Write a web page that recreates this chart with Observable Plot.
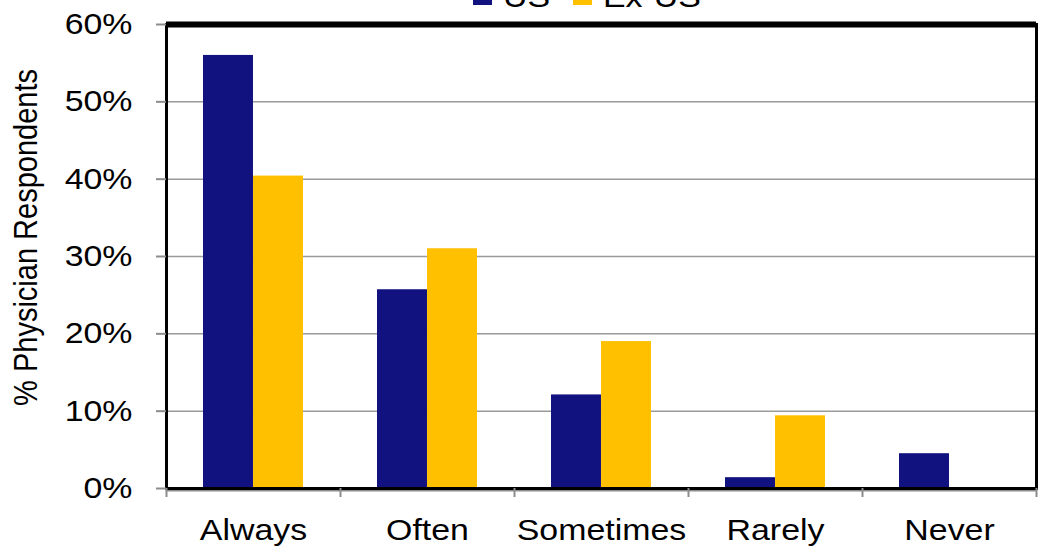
<!DOCTYPE html>
<html>
<head>
<meta charset="utf-8">
<script src="https://cdn.jsdelivr.net/npm/d3@7"></script>
<script src="https://cdn.jsdelivr.net/npm/@observablehq/plot@0.6"></script>
<style>
  html, body { margin: 0; padding: 0; background: #fff; overflow: hidden; }
  #legend svg, #chart svg { display: block; }
</style>
</head>
<body>
<div id="legend"></div>
<div id="chart"></div>
<script>
// Survey answers, share of physician respondents (%)
const categories = ["Always", "Often", "Sometimes", "Rarely", "Never"];
const series = ["US", "Ex-US"];
const usValues = [56.0, 25.7, 12.1, 1.4, 4.5];
const exUsValues = [40.4, 31.0, 19.0, 9.4, 0];
const yTicks = [0, 10, 20, 30, 40, 50, 60];
const seriesColors = ["#11117F", "#FFC000"];
const yLabel = "% Physician Respondents";

// Layout
const W = 1038, LEGEND_H = 7, H = 548 - LEGEND_H;
const margin = {top: 17, right: 2, bottom: 60, left: 166};
const FONT = "'Liberation Sans', Arial, Helvetica, sans-serif";
const STRETCH = 1.13;            // wide lettering
const bandPad = 0.425;
const step = (W - margin.left - margin.right) / categories.length;
const halfGroup = step * (1 - bandPad) / 2;
const axisGray = "#8c8c8c";

const rows = categories.flatMap((c, i) => [
  {category: c, series: series[0], value: usValues[i]},
  {category: c, series: series[1], value: exUsValues[i]}
]);

const plot = Plot.plot({
  width: W,
  height: H,
  marginTop: margin.top,
  marginRight: margin.right,
  marginBottom: margin.bottom,
  marginLeft: margin.left,
  style: {fontFamily: FONT, fontSize: "30px", color: "black", background: "white"},
  x: {domain: categories, paddingInner: bandPad, paddingOuter: bandPad / 2},
  y: {domain: [0, 60]},
  color: {domain: series, range: seriesColors},
  marks: [
    // horizontal gridlines
    Plot.ruleY(yTicks, {stroke: "#9a9a9a", strokeWidth: 1.5}),
    // grouped bars: US on the left half of each group, Ex-US on the right half
    Plot.barY(rows.filter(d => d.series === series[0]),
      {x: "category", y: "value", fill: "series", insetRight: halfGroup}),
    Plot.barY(rows.filter(d => d.series === series[1]),
      {x: "category", y: "value", fill: "series", insetLeft: halfGroup}),
    // gray category axis line just below the plot border
    Plot.ruleY([0], {stroke: axisGray, strokeWidth: 2, dy: 2}),
    // plot-area border, heavier along the top
    Plot.frame({stroke: "black", strokeWidth: 3}),
    Plot.ruleY([60], {stroke: "black", strokeWidth: 6}),
    // category separator ticks
    Plot.ruleX(categories, {x: d => d, dx: -step / 2, y1: 0, y2: 0, insetBottom: -9,
      stroke: axisGray, strokeWidth: 2}),
    Plot.ruleX(categories.slice(-1), {x: d => d, dx: step / 2, y1: 0, y2: 0, insetBottom: -9,
      stroke: axisGray, strokeWidth: 2}),
    Plot.axisY({ticks: yTicks, tickFormat: d => d + "%", tickSize: 10, tickPadding: 24,
      stroke: axisGray, strokeWidth: 2, fill: "black", fontSize: 30, label: null}),
    Plot.axisX({tickSize: 0, tickPadding: 30, fontSize: 30, fill: "black", label: null}),
    Plot.text([yLabel], {text: d => d, frameAnchor: "left", rotate: -90, lineAnchor: "top",
      textAnchor: "middle", dx: -153, dy: -19, fontSize: 29, fill: "black"})
  ]
});

// Widen the lettering horizontally on screen
function widen(sel) {
  sel.each(function () {
    const t = d3.select(this);
    const tr = t.attr("transform");
    if (tr) {
      const rotated = /rotate\(\s*-?90/.test(tr);
      t.attr("transform", tr + (rotated ? ` scale(1,${STRETCH})` : ` scale(${STRETCH},1)`));
    } else {
      const x = +t.attr("x") || 0;
      t.attr("transform", `translate(${x},0) scale(${STRETCH},1) translate(${-x},0)`);
    }
  });
}
widen(d3.select(plot).selectAll("text"));

// Legend strip above the chart
const legendX = [473, 573];
const legend = d3.select("#legend").append("svg")
  .attr("width", W).attr("height", LEGEND_H)
  .style("font-family", FONT).style("font-size", "30px");
series.forEach((s, i) => {
  legend.append("rect")
    .attr("x", legendX[i]).attr("y", -11).attr("width", 19).attr("height", 16)
    .attr("fill", seriesColors[i]);
  legend.append("text")
    .attr("transform", `translate(${legendX[i] + 30},${LEGEND_H}) scale(${STRETCH},1)`)
    .attr("fill", "black")
    .text(s);
});

document.getElementById("chart").appendChild(plot);
</script>
</body>
</html>
